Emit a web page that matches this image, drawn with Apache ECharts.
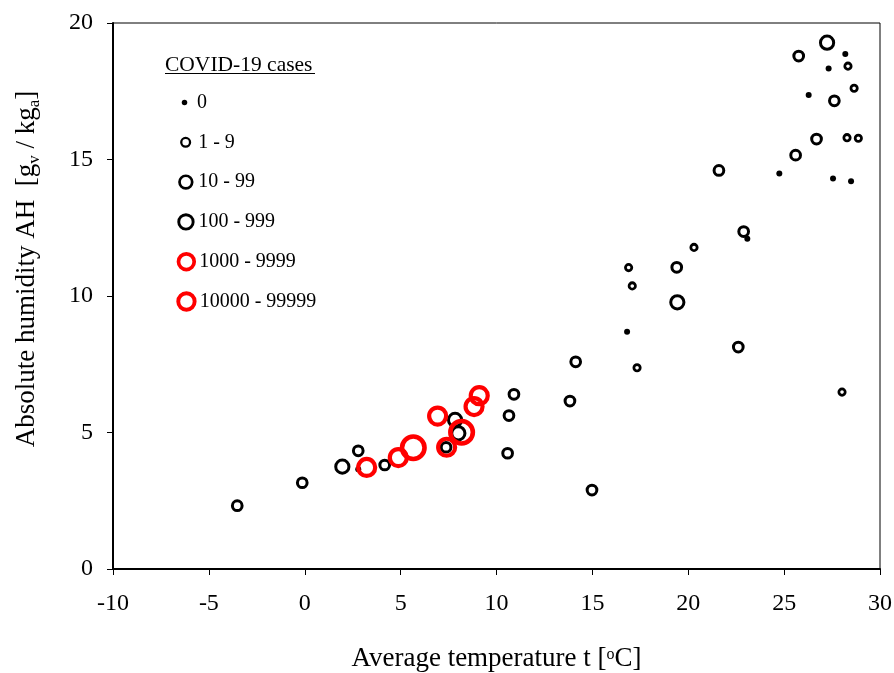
<!DOCTYPE html>
<html>
<head>
<meta charset="utf-8">
<script src="https://cdn.jsdelivr.net/npm/echarts@6/dist/echarts.min.js"></script>
<style>
html,body{margin:0;padding:0;background:#fff;}
#chart{width:894px;height:673px;}
</style>
</head>
<body>
<div id="chart"></div>
<script>
// Average temperature t [°C] and absolute humidity AH [g/kg], grouped by COVID-19 case class
const groupNames = ['0', '1 - 9', '10 - 99', '100 - 999', '1000 - 9999', '10000 - 99999'];

const t_0   = [2.79, 16.81, 23.08, 24.75, 26.28, 27.32, 27.55, 28.19, 28.49];
const ah_0  = [3.65, 8.69, 12.10, 14.49, 17.36, 18.33, 14.30, 18.86, 14.20];

const t_1   = [16.89, 17.08, 17.33, 20.30, 28.02, 28.28, 28.33, 28.65, 28.87];
const ah_1  = [11.04, 10.37, 7.37, 11.78, 6.48, 15.80, 18.42, 17.61, 15.78];

const t_10  = [-3.52, -0.13, 2.79, 4.17, 7.37, 10.58, 10.65, 10.91, 13.83, 14.13, 14.98, 19.40, 21.60, 22.61, 22.89, 25.60, 25.76, 26.69, 27.62];
const ah_10 = [2.32, 3.16, 4.33, 3.81, 4.46, 4.24, 5.62, 6.40, 6.15, 7.59, 2.89, 11.05, 14.60, 8.13, 12.36, 15.16, 18.79, 15.75, 17.15];

const t_100  = [1.96, 7.84, 8.01, 19.43, 27.24];
const ah_100 = [3.75, 5.46, 4.97, 9.77, 19.28];

const t_1000  = [3.23, 4.88, 6.93, 7.40, 8.83, 9.10];
const ah_1000 = [3.72, 4.08, 5.60, 4.46, 5.95, 6.35];

const t_10000  = [5.66, 8.18];
const ah_10000 = [4.44, 5.01];

const xTicks = [-10, -5, 0, 5, 10, 15, 20, 25, 30];
const yTicks = [0, 5, 10, 15, 20];

const groupT  = [t_0, t_1, t_10, t_100, t_1000, t_10000];
const groupAH = [ah_0, ah_1, ah_10, ah_100, ah_1000, ah_10000];

// styles (not data)
const FONT = 'Liberation Serif';
const markerStyles = [
  {size: 6,    fill: '#000',             stroke: '#000',   bw: 0},
  {size: 6.3,  fill: 'rgba(0,0,0,0)',    stroke: '#000',   bw: 2.8},
  {size: 9.7,  fill: 'rgba(0,0,0,0)',    stroke: '#000',   bw: 3},
  {size: 13.2, fill: 'rgba(0,0,0,0)',    stroke: '#000',   bw: 3},
  {size: 17,   fill: 'rgba(0,0,0,0)',    stroke: '#ff0000', bw: 4.2},
  {size: 22.5, fill: 'rgba(0,0,0,0)',    stroke: '#ff0000', bw: 4.6}
];
const legendIcon = [
  {size: 5.5, bw: 0},
  {size: 6.5, bw: 2.3},
  {size: 10,  bw: 2.7},
  {size: 11.5, bw: 2.9},
  {size: 12,  bw: 3.7},
  {size: 12.5, bw: 3.9}
];

const series = groupNames.map((name, i) => ({
  name: name,
  type: 'scatter',
  symbol: 'circle',
  symbolSize: markerStyles[i].size,
  data: groupT[i].map((t, k) => [t, groupAH[i][k]]),
  itemStyle: {
    color: markerStyles[i].fill,
    borderColor: markerStyles[i].stroke,
    borderWidth: markerStyles[i].bw,
    opacity: 1
  },
  emphasis: {disabled: true},
  z: 2 + i,
  animation: false
}));

const legendCx = 184.5;
const legends = groupNames.map((name, i) => {
  const s = legendIcon[i].size + legendIcon[i].bw;
  const cy = 102.5 + 39.8 * i;
  return {
    data: [name],
    orient: 'vertical',
    left: legendCx - s / 2,
    top: cy - 11,
    itemWidth: s,
    itemHeight: s,
    padding: 0,
    selectedMode: false,
    itemStyle: {
      color: markerStyles[i].fill,
      borderColor: markerStyles[i].stroke,
      borderWidth: legendIcon[i].bw
    },
    textStyle: {
      fontFamily: FONT,
      fontSize: 20,
      color: '#000',
      lineHeight: 22,
      padding: [0, 0, 0, Math.max(0, 7.5 - s / 2)]
    }
  };
});

const chart = echarts.init(document.getElementById('chart'), null, {renderer: 'canvas'});
chart.setOption({
  animation: false,
  backgroundColor: '#fff',
  grid: {
    left: 113, right: 14, top: 23, bottom: 104,
    outerBoundsMode: 'none',
    containLabel: false,
    show: true, borderColor: '#000', borderWidth: 1, backgroundColor: 'transparent'
  },
  xAxis: {
    type: 'value',
    min: xTicks[0], max: xTicks[xTicks.length - 1], interval: xTicks[1] - xTicks[0],
    name: '{n|Average temperature t [}{sup|o}{n|C]}',
    nameLocation: 'middle',
    nameGap: 75,
    nameTextStyle: {
      color: '#000',
      rich: {
        n: {fontFamily: FONT, fontSize: 27, color: '#000', lineHeight: 30},
        sup: {fontFamily: FONT, fontSize: 16, color: '#000', lineHeight: 30, verticalAlign: 'top', padding: [3, 0, 0, 0]}
      }
    },
    axisLine: {show: true, onZero: false, lineStyle: {color: '#000', width: 2}},
    axisTick: {show: true, inside: false, length: 6, lineStyle: {color: '#000', width: 1}},
    axisLabel: {fontFamily: FONT, fontSize: 24, color: '#000', margin: 23},
    splitLine: {show: false}
  },
  yAxis: {
    type: 'value',
    min: yTicks[0], max: yTicks[yTicks.length - 1], interval: yTicks[1] - yTicks[0],
    name: '{n|Absolute humidity AH  [g}{s|v}{n| / kg}{s|a}{n|]}',
    nameLocation: 'middle',
    nameGap: 70,
    nameRotate: 90,
    nameTextStyle: {
      color: '#000',
      padding: [0, 0, 0, 54],
      rich: {
        n: {fontFamily: FONT, fontSize: 27, color: '#000', lineHeight: 32},
        s: {fontFamily: FONT, fontSize: 17, color: '#000', verticalAlign: 'bottom', lineHeight: 17}
      }
    },
    axisLine: {show: true, onZero: false, lineStyle: {color: '#000', width: 2}},
    axisTick: {show: true, inside: false, length: 6, lineStyle: {color: '#000', width: 1}},
    axisLabel: {fontFamily: FONT, fontSize: 24, color: '#000', margin: 20},
    splitLine: {show: false}
  },
  legend: legends,
  graphic: [
    {
      type: 'text',
      left: 165, top: 54,
      style: {text: 'COVID-19 cases', font: '21.5px "' + FONT + '"', fill: '#000'},
      z: 10
    },
    {
      type: 'line',
      shape: {x1: 165, y1: 73.5, x2: 315, y2: 73.5},
      style: {stroke: '#000', lineWidth: 1},
      z: 10
    }
  ],
  series: series
});
</script>
</body>
</html>
